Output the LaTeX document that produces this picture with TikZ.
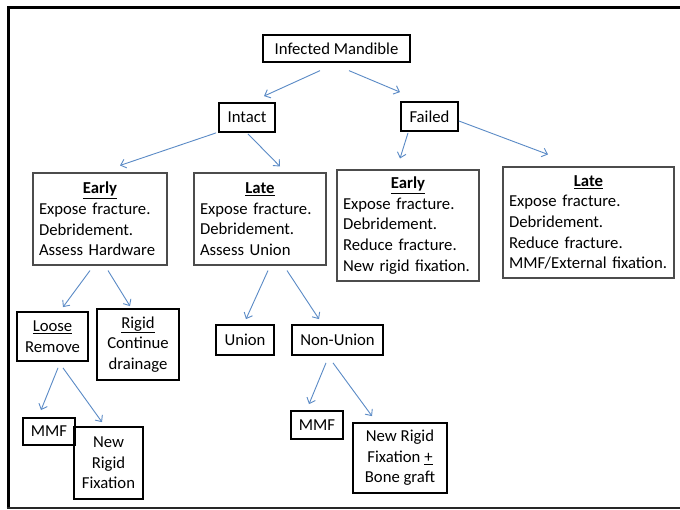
\documentclass[tikz,border=0pt]{standalone}
\usepackage{fontspec}
\setmainfont{Carlito}
\usetikzlibrary{arrows.meta}
\definecolor{arrblue}{HTML}{5A8AC6}
\begin{document}
\begin{tikzpicture}[x=1pt,y=-1pt,
  every node/.style={font=\fontsize{16.7pt}{20.6pt}\selectfont, text=black},
  sbox/.style={draw=black, line width=1.8pt, inner sep=0pt, align=center},
  bbox/.style={draw=black!70, line width=1.1pt, inner ysep=0pt, inner xsep=6pt, align=left},
  arr/.style={draw=arrblue, line width=0.9pt, -{Straight Barb[length=5pt,width=9pt]}}]
\useasboundingbox (0,0) rectangle (680,510);
\fill[white] (0,0) rectangle (680,510);
% frame
\draw[line width=3pt] (680,8) -- (8,8) -- (8,508.5);
\draw[line width=1.8pt, black!85] (6.5,508) -- (680,508);
% nodes
\node[sbox, line width=1.3pt, minimum width=147pt, minimum height=27pt] (top) at (336.5,48.5) {Infected Mandible};
\node[sbox, minimum width=56pt, minimum height=29pt] (intact) at (247,117.5) {Intact};
\node[sbox, minimum width=57pt, minimum height=29pt] (failed) at (429.5,116.5) {Failed};
\node[bbox, minimum width=134pt, minimum height=92pt, text width=122pt] (earlyL) at (100,219)
  {\makebox[\linewidth]{\underline{\textbf{Early}}}\\Expose fracture.\\Debridement.\\Assess Hardware};
\node[bbox, minimum width=132pt, minimum height=92pt, text width=120pt] (lateL) at (260,219)
  {\makebox[\linewidth]{\underline{\textbf{Late}}}\\Expose fracture.\\Debridement.\\Assess Union};
\node[bbox, minimum width=142pt, minimum height=111pt, text width=130pt] (earlyR) at (408,225.5)
  {\makebox[\linewidth]{\underline{\textbf{Early}}}\\Expose fracture.\\Debridement.\\Reduce fracture.\\New rigid fixation.};
\node[bbox, minimum width=171pt, minimum height=111pt, text width=159pt] (lateR) at (588.5,222.5)
  {\makebox[\linewidth]{\underline{\textbf{Late}}}\\Expose fracture.\\Debridement.\\Reduce fracture.\\MMF/External fixation.};
\node[sbox, minimum width=71pt, minimum height=49pt] (loose) at (52.5,336.5) {\underline{Loose}\\Remove};
\node[sbox, minimum width=82pt, minimum height=71pt] (rigid) at (138,344.5) {\underline{Rigid}\\Continue\\drainage};
\node[sbox, minimum width=52pt, minimum height=27pt] (mmfL) at (49,431.5) {MMF};
\node[sbox, minimum width=69pt, minimum height=72pt] (newL) at (108.5,463) {New\\Rigid\\Fixation};
\node[sbox, minimum width=58pt, minimum height=30pt] (union) at (245,340) {Union};
\node[sbox, minimum width=91pt, minimum height=30pt] (nonunion) at (337.5,340) {Non-Union};
\node[sbox, minimum width=52pt, minimum height=28pt] (mmfR) at (317,425) {MMF};
\node[sbox, minimum width=94pt, minimum height=70pt] (newR) at (400,458) {New Rigid\\Fixation \underline{+}\\Bone graft};
% connectors
\draw[arr] ([shift={(-16.5,8)}]top.south) -- ([shift={(17,-6)}]intact.north);
\draw[arr] ([shift={(12.5,8)}]top.south) -- ([shift={(-29.5,-9)}]failed.north);
\draw[arr] ([shift={(-2,0)}]intact.south west) -- ([shift={(20,-7)}]earlyL.north);
\draw[arr] ([shift={(1,1)}]intact.south) -- ([shift={(20,-6)}]lateL.north);
\draw[arr] ([shift={(-21.5,1)}]failed.south) -- ([shift={(-8,-11)}]earlyR.north);
\draw[arr] ([shift={(0,4.5)}]failed.east) -- ([shift={(-40.5,-12)}]lateR.north);
\draw[arr] ([shift={(-10,5)}]earlyL.south) -- ([shift={(10.5,-4)}]loose.north);
\draw[arr] ([shift={(8,5)}]earlyL.south) -- ([shift={(-8,-2)}]rigid.north);
\draw[arr] ([shift={(8,5)}]lateL.south) -- ([shift={(1,-5)}]union.north);
\draw[arr] ([shift={(27,5)}]lateL.south) -- ([shift={(-18.5,-5)}]nonunion.north);
\draw[arr] ([shift={(5.5,6)}]loose.south) -- ([shift={(-8,-7)}]mmfL.north);
\draw[arr] ([shift={(10.5,6)}]loose.south) -- ([shift={(-6.5,-4)}]newL.north);
\draw[arr] ([shift={(-11.5,7)}]nonunion.south) -- ([shift={(-8,-6)}]mmfR.north);
\draw[arr] ([shift={(-4.5,7)}]nonunion.south) -- ([shift={(-28,-6)}]newR.north);
\end{tikzpicture}
\end{document}
